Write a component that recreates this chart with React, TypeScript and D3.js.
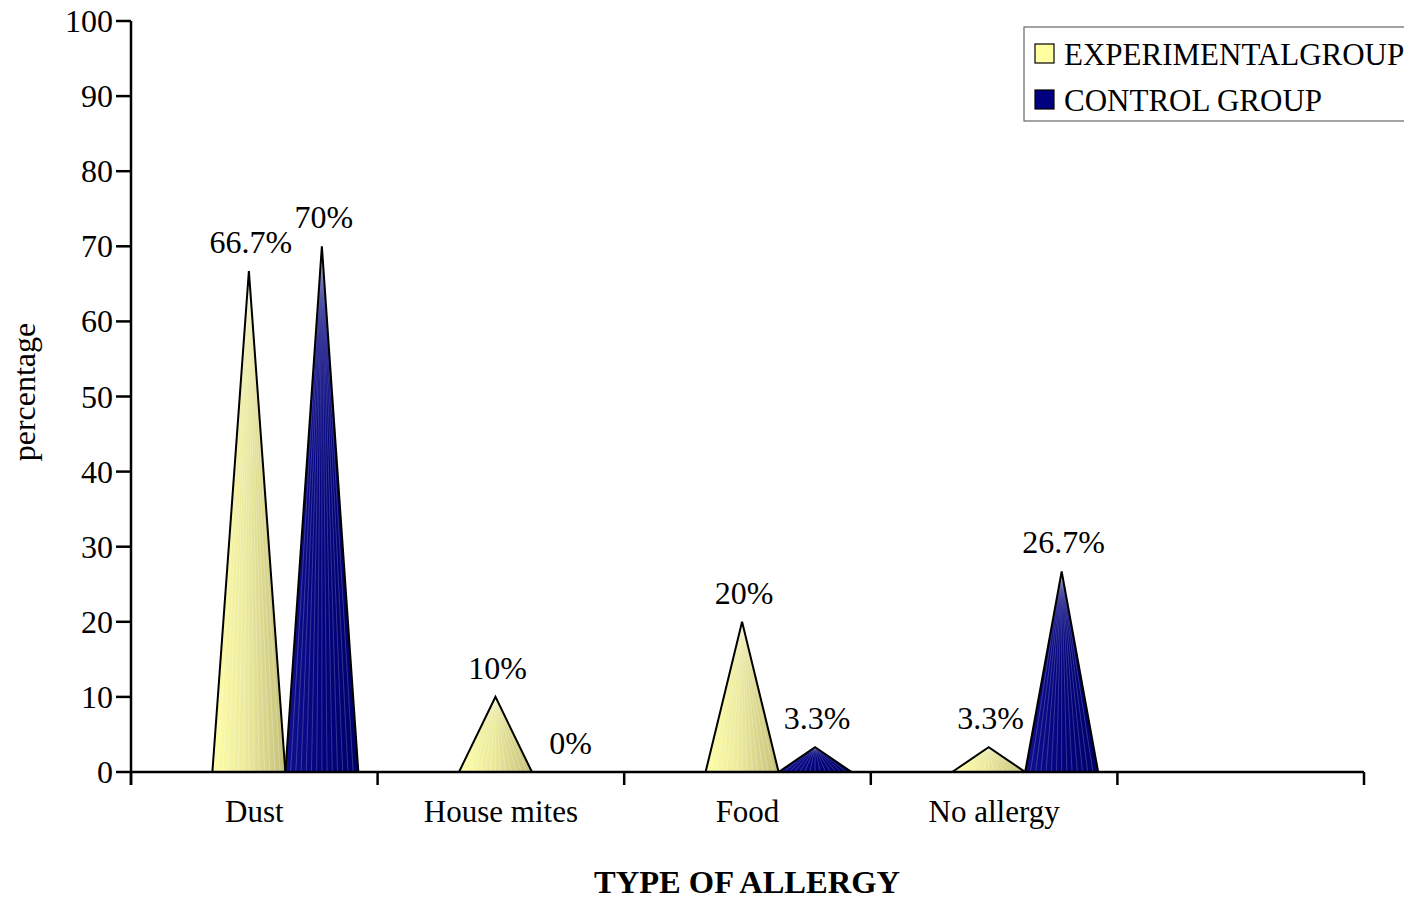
import React from "react";
import * as d3 from "d3";

const categories = ["Dust", "House mites", "Food", "No allergy", ""];
const experimental = [66.7, 10, 20, 3.3];
const control = [70, 0, 3.3, 26.7];
const expLabels = ["66.7%", "10%", "20%", "3.3%"];
const ctlLabels = ["70%", "0%", "3.3%", "26.7%"];
const yTicks = [0, 10, 20, 30, 40, 50, 60, 70, 80, 90, 100];
const seriesNames = ["EXPERIMENTALGROUP", "CONTROL GROUP"];

const W = 1404;
const H = 901;
const FONT = "'Liberation Serif', 'Times New Roman', serif";

export default function App() {
  const x = d3.scaleBand<string>().domain(categories).range([131, 1364]).padding(0);
  const y = d3.scaleLinear().domain([0, 100]).range([772, 21]);
  const bw = x.bandwidth();
  const coneW = bw * 0.296;
  const offset = bw * 0.33;

  const series = [
    { name: seriesNames[0], values: experimental, labels: expLabels, grad: "gradY", stripe: 0.35, idx: 0 },
    { name: seriesNames[1], values: control, labels: ctlLabels, grad: "gradB", stripe: 0.25, idx: 1 },
  ];

  const cone = (cx: number, v: number) => {
    const p = d3.path();
    p.moveTo(cx - coneW / 2, y(0));
    p.lineTo(cx, y(v));
    p.lineTo(cx + coneW / 2, y(0));
    p.closePath();
    return p.toString();
  };

  const stripes = (cx: number, v: number, n: number) => {
    const out: string[] = [];
    for (let i = 1; i < n; i++) {
      const bx = cx - coneW / 2 + (coneW * i) / n;
      const p = d3.path();
      p.moveTo(bx, y(0));
      p.lineTo(cx, y(v));
      out.push(p.toString());
    }
    return out;
  };

  const tickXs = categories.map((c) => x(c) as number).concat([x.range()[1]]);

  return (
    <svg
      width={W}
      height={H}
      style={{ position: "fixed", left: 0, top: 0, background: "#fff" }}
      fontFamily={FONT}
    >
      <defs>
        <linearGradient id="gradY" x1="0" x2="1" y1="0" y2="0">
          <stop offset="0" stopColor="#ffffa8" />
          <stop offset="0.45" stopColor="#ecea9c" />
          <stop offset="1" stopColor="#c4c07a" />
        </linearGradient>
        <linearGradient id="gradB" x1="0" x2="1" y1="0" y2="0">
          <stop offset="0" stopColor="#10108e" />
          <stop offset="0.5" stopColor="#03037e" />
          <stop offset="1" stopColor="#00006a" />
        </linearGradient>
      </defs>

      {/* cones */}
      {series.map((s) =>
        s.values.map((v, i) => {
          const cx = (x(categories[i]) as number) + offset + coneW * s.idx + coneW / 2;
          return (
            <g key={s.name + i}>
              {v > 0 && (
                <>
                  <path d={cone(cx, v)} fill={`url(#${s.grad})`} stroke="none" />
                  {stripes(cx, v, 14).map((d, k) => (
                    <path key={k} d={d} stroke="#ffffff" strokeOpacity={s.stripe} strokeWidth={0.8} fill="none" />
                  ))}
                  <path d={cone(cx, v)} fill="none" stroke="#000" strokeWidth={2} strokeLinejoin="miter" />
                </>
              )}
              <text x={cx + 2} y={y(v) - 18} textAnchor="middle" fontSize={32} fill="#000">
                {s.labels[i]}
              </text>
            </g>
          );
        })
      )}

      {/* y axis */}
      <line x1={131} x2={131} y1={y(100)} y2={785} stroke="#000" strokeWidth={2.5} />
      {yTicks.map((t) => (
        <g key={t}>
          <line x1={116} x2={131} y1={y(t)} y2={y(t)} stroke="#000" strokeWidth={2.5} />
          <text x={113} y={y(t) + 11} textAnchor="end" fontSize={32} fill="#000">
            {t}
          </text>
        </g>
      ))}

      {/* x axis */}
      <line x1={131} x2={x.range()[1]} y1={y(0)} y2={y(0)} stroke="#000" strokeWidth={2.5} />
      {tickXs.map((tx, i) => (
        <line key={i} x1={tx} x2={tx} y1={y(0)} y2={785} stroke="#000" strokeWidth={2.5} />
      ))}
      {categories.map((c) => (
        <text key={c} x={(x(c) as number) + bw / 2} y={822} textAnchor="middle" fontSize={31} fill="#000">
          {c}
        </text>
      ))}

      {/* axis titles */}
      <text x={747} y={893} textAnchor="middle" fontSize={32} fontWeight="bold" fill="#000" textLength={306} lengthAdjust="spacingAndGlyphs">
        TYPE OF ALLERGY
      </text>
      <text
        transform={`translate(35,392) rotate(-90)`}
        textAnchor="middle"
        fontSize={32}
        fill="#000"
      >
        percentage
      </text>

      {/* legend */}
      <rect x={1024} y={27} width={395} height={94} fill="#fff" stroke="#666" strokeWidth={1.2} />
      {series.map((s, i) => (
        <g key={s.name}>
          <rect
            x={1035}
            y={44 + i * 46}
            width={19}
            height={19}
            fill={i === 0 ? "#ffffa0" : "#000080"}
            stroke="#000"
            strokeWidth={1.2}
          />
          <text x={1064} y={65 + i * 46} fontSize={31} fill="#000">
            {s.name}
          </text>
        </g>
      ))}
    </svg>
  );
}
